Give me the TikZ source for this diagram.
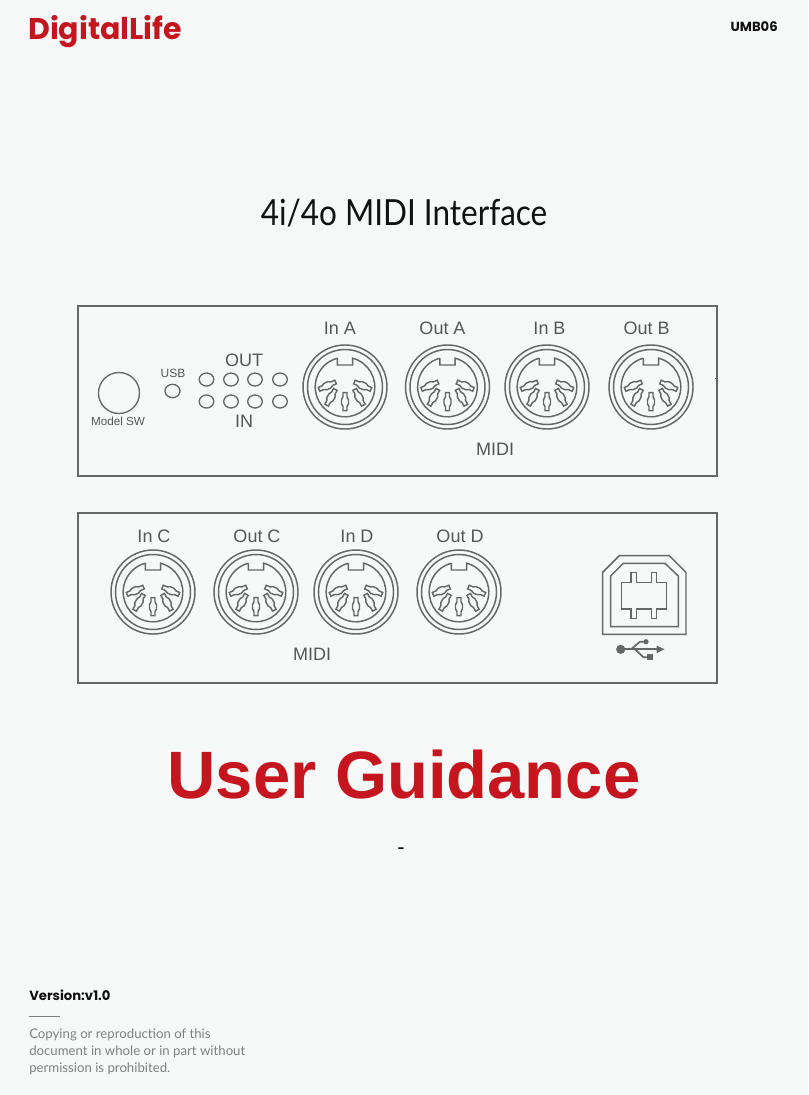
\documentclass[tikz,border=0pt]{standalone}
\usepackage{fontspec}
\setmainfont{Liberation Sans}
\newfontfamily\popf{Poppins}
\newfontfamily\latf{Lato}
\definecolor{bgc}{HTML}{F7F8F8}
\definecolor{linec}{HTML}{666868}
\definecolor{labc}{HTML}{555757}
\definecolor{redc}{HTML}{C5161F}
\definecolor{inkc}{HTML}{111111}
\definecolor{finec}{HTML}{7F8080}
\newcommand{\px}[1]{\fontsize{\dimexpr #1pt*3/4\relax}{\dimexpr #1pt*9/10\relax}\selectfont}
\tikzset{
  x=0.75pt,y=-0.75pt,
  panel/.style={draw=linec,line width=1.3pt},
  ln/.style={draw=linec,line width=1.1pt},
  led/.style={draw=linec,line width=1pt,fill=none},
  lab/.style={text=labc,inner sep=0pt,font=\px{18}},
  din/.pic={
    \draw[ln] (0,0) circle (42);
    \draw[ln] (0,0) circle (37.5);
    \draw[ln] (-7.7,-28.8) -- (-7.7,-22) -- (7.7,-22) -- (7.7,-28.8)
      arc[start angle=-75,end angle=255,radius=29.8];
    \foreach \cx/\cy/\ang in {0/14.7/0,-14/10.3/-29,14/10.3/29,-17.7/-1.3/-66,17.7/-1.3/66}{
      \draw[ln,shift={(\cx,\cy)},rotate=\ang]
        (-2,-9)--(2,-9)--(2,-5)--(3.5,-2)--(3.5,2)--(2,5)--(2,9)--(-2,9)--(-2,5)--(-3.5,2)--(-3.5,-2)--(-2,-5)--cycle;
    }
  }
}
\begin{document}
\begin{tikzpicture}
\useasboundingbox (0,0) rectangle (808,1095);
\fill[bgc] (0,0) rectangle (808,1095);
\node[inner sep=0pt,anchor=west,text=redc,font={\popf\bfseries\px{30}}] (logo) at (28,32) {DigitalLife};
\node[inner sep=0pt,anchor=east,text=inkc,font={\popf\bfseries\px{13.2}}] (model) at (778,27) {UMB06};
\node[inner sep=0pt,text=inkc,font={\latf\px{36}}] (title) at (404,213) {\scalebox{0.875}[1]{4i/4o MIDI Interface}};
\draw[panel] (78,306) rectangle (717,476);
\draw[panel] (78,513) rectangle (717,683);
\draw[linec,line width=0.7pt] (715,378) -- (717,378);
\draw[led] (119,393) circle (20.5);
\node[lab,font=\px{11.7}] (msw) at (118,421) {Model SW};
\node[lab,font=\px{12}] (usbl) at (173,373) {USB};
\draw[led] (172.5,391) ellipse (7.5 and 6.7);
\foreach \xx in {206.5,231,255,280}{
  \draw[led] (\xx,379.5) ellipse (7.3 and 6.5);
  \draw[led] (\xx,401.5) ellipse (7.3 and 6.5);
}
\node[lab] (outl) at (244,360) {OUT};
\node[lab] (inl) at (244,421) {IN};
\foreach \xx/\lx/\tt in {345/340/In A,447.5/442.5/Out A,547/549.5/In B,651/646.5/Out B}{
  \pic at (\xx,387) {din};
  \node[lab] at (\lx,328) {\tt};
}
\node[lab] (midia) at (495,449) {MIDI};
\foreach \xx/\tt in {153/In C,256/Out C,356/In D,459/Out D}{
  \pic at (\xx,592) {din};
  \node[lab] at (\xx+1,536) {\tt};
}
\node[lab] (midib) at (312,654) {MIDI};
% USB-B
\draw[ln,line width=1.1pt] (602.7,634.3)--(602.7,572.3)--(619.3,555.7)--(669.3,555.7)--(686,572.3)--(686,634.3)--cycle;
\draw[ln,line width=1.1pt] (610.7,626.7)--(610.7,576)--(623.3,563.3)--(665,563.3)--(678.3,576)--(678.3,626.7)--cycle;
\draw[ln,line width=1.1pt] (621.7,582.3)--(631,582.3)--(631,572.3)--(636.7,572.3)--(636.7,582.3)--(651.7,582.3)--(651.7,572.3)--(656.7,572.3)--(656.7,582.3)--(666.7,582.3)--(666.7,609)--(656.7,609)--(656.7,618.3)--(651.7,618.3)--(651.7,609)--(636.7,609)--(636.7,618.3)--(631,618.3)--(631,609)--(621.7,609)--cycle;
% USB symbol
\fill[linec] (620.7,649.3) circle (4.6);
\draw[linec,line width=1.3pt] (620.7,649.3) -- (660,649.3);
\fill[linec] (664.5,649.3) -- (656.5,645.5) -- (656.5,653.1) -- cycle;
\draw[linec,line width=1.3pt] (631,649.3) -- (640,641.7) -- (645,641.7);
\fill[linec] (646,641.7) circle (2.6);
\draw[linec,line width=1.3pt] (635,649.3) -- (643.5,657.3) -- (648,657.3);
\fill[linec] (646.5,654.3) rectangle (652.5,660.3);
\node[inner sep=0pt,text=redc,font={\bfseries\px{67}}] (ug) at (404,775) {User Guidance};
\node[inner sep=0pt,text=inkc,font={\px{22}}] (dash) at (401,851) {-};
\node[inner sep=0pt,anchor=west,text=inkc,font={\popf\bfseries\px{13.2}}] (ver) at (29,995) {Version:v1.0};
\coordinate (r1) at (29,1016); \coordinate (r2) at (59.5,1016);
\draw[finec,line width=0.7pt] (r1) -- (r2);
\node[inner sep=0pt,anchor=north west,align=left,text=finec,font={\latf\fontsize{9.9pt}{12.75pt}\selectfont}] (copy) at (29,1028) {Copying or reproduction of this\\document in whole or in part without\\permission is prohibited.};
\end{tikzpicture}
\end{document}
